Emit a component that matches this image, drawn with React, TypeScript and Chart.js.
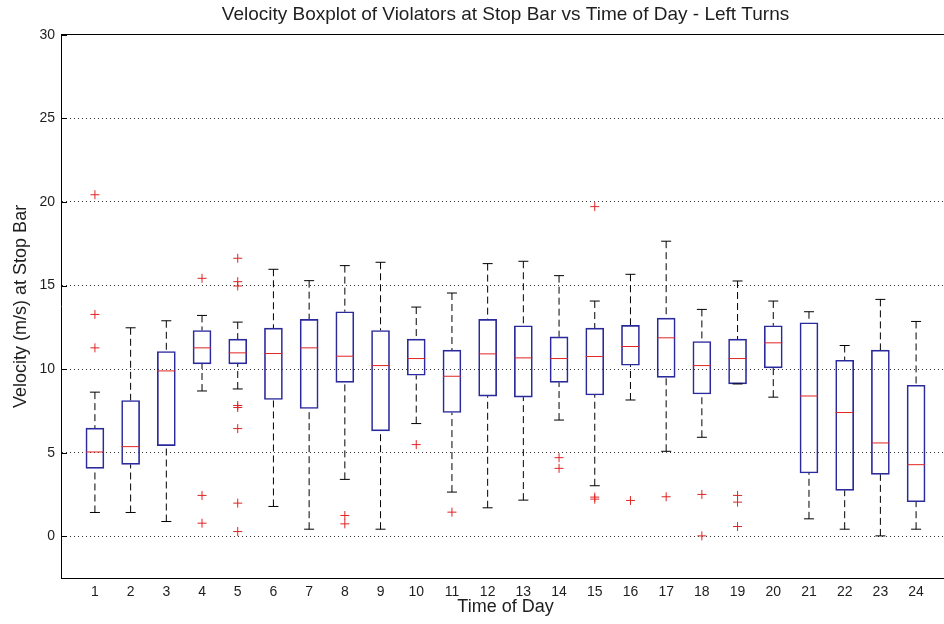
import React, { useEffect, useRef } from "react";
import { Chart, registerables } from "chart.js";

Chart.register(...registerables);

// ---- data ----
const hours = [1, 2, 3, 4, 5, 6, 7, 8, 9, 10, 11, 12, 13, 14, 15, 16, 17, 18, 19, 20, 21, 22, 23, 24];
const whiskerLow = [1.42, 1.42, 0.88, 8.69, 8.81, 1.78, 0.42, 3.4, 0.42, 6.74, 2.64, 1.7, 2.16, 6.95, 3.02, 8.15, 5.08, 5.92, 9.11, 8.32, 1.04, 0.42, 0.02, 0.42];
const q1 = [4.06, 4.3, 5.42, 10.31, 10.31, 8.18, 7.64, 9.2, 6.3, 9.63, 7.4, 8.38, 8.32, 9.2, 8.45, 10.23, 9.5, 8.51, 9.11, 10.07, 3.78, 2.74, 3.7, 2.06];
const median = [5.04, 5.36, 9.89, 11.27, 10.97, 10.93, 11.27, 10.77, 10.21, 10.63, 9.57, 10.91, 10.67, 10.63, 10.75, 11.35, 11.87, 10.21, 10.63, 11.57, 8.39, 7.4, 5.58, 4.28];
const q3 = [6.47, 8.12, 11.05, 12.31, 11.79, 12.45, 12.97, 13.43, 12.31, 11.79, 11.13, 12.97, 12.59, 11.93, 12.45, 12.61, 13.05, 11.65, 11.79, 12.59, 12.77, 10.53, 11.13, 9.03];
const whiskerHigh = [8.62, 12.47, 12.89, 13.21, 12.81, 15.97, 15.29, 16.19, 16.39, 13.71, 14.55, 16.31, 16.45, 15.59, 14.07, 15.67, 17.65, 13.57, 15.27, 14.07, 13.43, 11.41, 14.17, 12.85];
const outliers: number[][] = [
  [20.43, 13.27, 11.27],
  [],
  [],
  [15.43, 2.44, 0.78],
  [16.63, 15.23, 14.97, 7.82, 7.7, 6.44, 1.98, 0.28],
  [],
  [],
  [1.24, 0.74],
  [],
  [5.48],
  [1.44],
  [],
  [],
  [4.7, 4.06],
  [19.72, 2.34, 2.22],
  [2.14],
  [2.36],
  [2.5, 0.02],
  [2.44, 2.04, 0.58],
  [],
  [],
  [],
  [],
  [],
];
const yTickValues = [0, 5, 10, 15, 20, 25, 30];

const TITLE = "Velocity Boxplot of Violators at Stop Bar vs Time of Day - Left Turns";
const X_LABEL = "Time of Day";
const Y_LABEL = "Velocity (m/s) at Stop Bar";
const FONT = "'Liberation Sans', Arial, Helvetica, sans-serif";
const TEXT = "#1e1e1e";
const BOX_COLOR = "#2a2a9e";
const RED = "#e02424";

const innerTicks = {
  id: "innerTicks",
  afterDraw(chart: any) {
    const { ctx, chartArea, scales } = chart;
    const y = scales.y;
    ctx.save();
    ctx.strokeStyle = "#000";
    ctx.lineWidth = 1;
    y.ticks.forEach((t: any) => {
      if (!yTickValues.includes(t.value)) return;
      const py = Math.round(y.getPixelForValue(t.value)) + 0.5;
      ctx.beginPath();
      ctx.moveTo(chartArea.left, py);
      ctx.lineTo(chartArea.left + 6, py);
      ctx.moveTo(chartArea.right, py);
      ctx.lineTo(chartArea.right - 6, py);
      ctx.stroke();
    });
    ctx.restore();
  },
};

export default function App() {
  const ref = useRef<HTMLCanvasElement>(null);

  useEffect(() => {
    if (!ref.current) return;
    const boxData = hours.map((h, i) => ({ x: h, y: [q1[i], q3[i]] }));
    const whiskerData: any[] = [];
    hours.forEach((h, i) => {
      whiskerData.push(
        { x: h, y: whiskerHigh[i] },
        { x: h, y: q3[i] },
        { x: h, y: null },
        { x: h, y: whiskerLow[i] },
        { x: h, y: q1[i] },
        { x: h, y: null }
      );
    });
    const capData = hours.flatMap((h, i) => [
      { x: h, y: whiskerLow[i] },
      { x: h, y: whiskerHigh[i] },
    ]);
    const medianData = hours.map((h, i) => ({ x: h, y: median[i] }));
    const outlierData = hours.flatMap((h, i) => outliers[i].map((v) => ({ x: h, y: v })));

    const chart = new Chart(ref.current, {
      type: "bar",
      data: {
        datasets: [
          {
            type: "scatter",
            label: "median",
            data: medianData,
            pointStyle: "line",
            pointRadius: 9,
            pointBorderColor: RED,
            pointBorderWidth: 1,
            pointBackgroundColor: RED,
          } as any,
          {
            type: "scatter",
            label: "outliers",
            data: outlierData,
            pointStyle: "cross",
            pointRadius: 4.5,
            pointBorderColor: RED,
            pointBorderWidth: 1,
          } as any,
          {
            type: "scatter",
            label: "caps",
            data: capData,
            pointStyle: "line",
            pointRadius: 5,
            pointBorderColor: "#000",
            pointBorderWidth: 1,
          } as any,
          {
            type: "bar",
            label: "box",
            data: boxData,
            backgroundColor: "rgba(0,0,0,0)",
            borderColor: BOX_COLOR,
            borderWidth: 1,
            borderSkipped: false,
            barThickness: 18,
          } as any,
          {
            type: "line",
            label: "whiskers",
            data: whiskerData,
            borderColor: "#000",
            borderWidth: 1,
            borderDash: [7, 4],
            pointRadius: 0,
            spanGaps: false,
            fill: false,
            tension: 0,
          } as any,
        ],
      },
      options: {
        responsive: false,
        animation: false,
        events: [],
        layout: { padding: { left: 0, right: 8, top: 0, bottom: 0 } },
        plugins: {
          legend: { display: false },
          tooltip: { enabled: false },
          title: {
            display: true,
            text: TITLE,
            fullSize: false,
            color: TEXT,
            font: { family: FONT, size: 19, weight: "normal" },
            padding: { top: 3, bottom: 9 },
          },
        },
        scales: {
          x: {
            type: "linear",
            min: 0.05,
            max: 24.95,
            offset: false,
            afterFit: (s: any) => {
              s.height = 46;
            },
            grid: { display: false, drawTicks: false, offset: false },
            border: { display: true, color: "#000", width: 1 },
            ticks: {
              stepSize: 1,
              includeBounds: false,
              autoSkip: false,
              maxRotation: 0,
              padding: 6,
              color: TEXT,
              font: { family: FONT, size: 14 },
              callback: (v: any) => (hours.includes(v) ? String(v) : ""),
            },
            title: {
              display: true,
              text: X_LABEL,
              color: TEXT,
              font: { family: FONT, size: 18 },
              padding: { top: 0, bottom: 6 },
            },
          },
          y: {
            type: "linear",
            min: -2.5,
            max: 30,
            afterFit: (s: any) => {
              s.width = 61;
            },
            grid: {
              display: true,
              drawTicks: false,
              color: (c: any) => (c.tick && c.tick.value === 30 ? "#000" : "#333"),
              lineWidth: 1,
            },
            border: {
              display: true,
              color: "#000",
              width: 1,
              dash: (c: any) => (c.tick && c.tick.value === 30 ? [] : [1, 3]),
            },
            ticks: {
              stepSize: 5,
              includeBounds: false,
              padding: 6,
              color: TEXT,
              font: { family: FONT, size: 14 },
              callback: (v: any) => (yTickValues.includes(v) ? String(v) : ""),
            },
            title: {
              display: true,
              text: Y_LABEL,
              color: TEXT,
              font: { family: FONT, size: 18 },
              padding: { top: 10, bottom: 0 },
            },
          },
        },
      } as any,
      plugins: [innerTicks],
    });
    return () => chart.destroy();
  }, []);

  return (
    <div
      style={{
        position: "fixed",
        left: 0,
        top: 0,
        width: 944,
        height: 624,
        overflow: "hidden",
        background: "#fff",
      }}
    >
      <canvas ref={ref} width={960} height={624} style={{ display: "block" }} />
    </div>
  );
}
